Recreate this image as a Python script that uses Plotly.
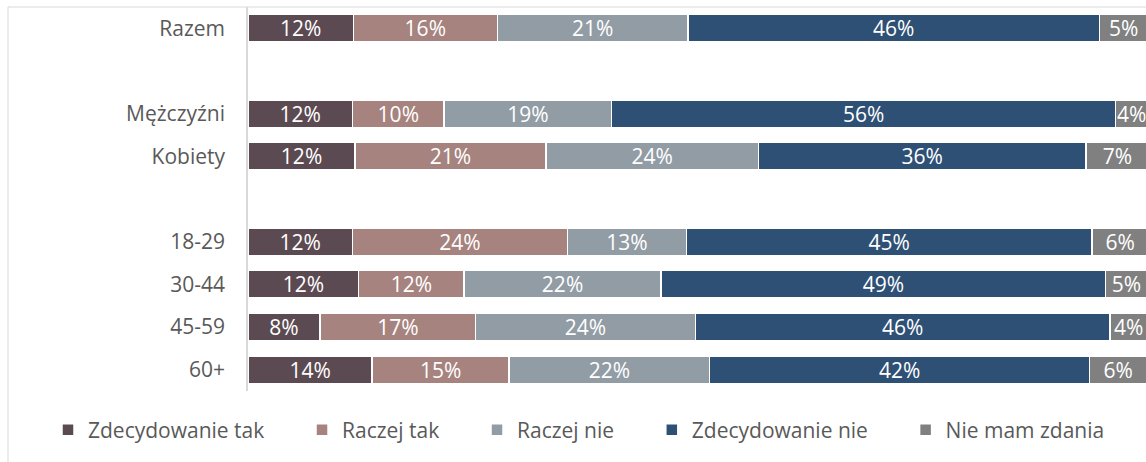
import plotly.graph_objects as go

# Categories (top to bottom); blank entries are spacer rows
categories = ["Razem", "Mężczyźni", "Kobiety", "18-29", "30-44", "45-59", "60+"]
axis_order = ["Razem", " ", "Mężczyźni", "Kobiety", "  ", "18-29", "30-44", "45-59", "60+"]

series_names = ["Zdecydowanie tak", "Raczej tak", "Raczej nie", "Zdecydowanie nie", "Nie mam zdania"]
zdecydowanie_tak = [11.7, 11.6, 11.9, 11.6, 12.3, 8.0, 13.8]
raczej_tak = [16.0, 10.2, 21.2, 23.9, 11.7, 17.3, 15.2]
raczej_nie = [21.2, 18.6, 23.6, 13.2, 21.9, 24.4, 22.3]
zdecydowanie_nie = [45.7, 56.0, 36.4, 45.1, 49.4, 46.1, 42.2]
nie_mam_zdania = [5.4, 3.6, 7.0, 6.2, 4.6, 4.1, 6.4]
series_values = [zdecydowanie_tak, raczej_tak, raczej_nie, zdecydowanie_nie, nie_mam_zdania]
colors = ["#5C4A52", "#A6837E", "#929CA5", "#2E5075", "#808080"]

FONT = "Open Sans"
FS = 21
W, H = 1146, 462
ML, MR, MT, MB = 248, 0, 7, 71
PAD = "\u00a0" * 6  # extra spacing between legend entries

fig = go.Figure()
n = len(series_names)
for i, (name, vals, col) in enumerate(zip(series_names, series_values, colors)):
    fig.add_trace(go.Bar(
        name=name + (PAD if i < n - 1 else ""), y=categories, x=vals, orientation="h",
        marker=dict(color=col, line=dict(color="white", width=1.5)),
        texttemplate="%{x:.0f}%", textposition="inside", insidetextanchor="middle",
        textangle=0, textfont=dict(color="white", size=FS, family=FONT),
        hoverinfo="skip",
    ))

plot_w = W - ML - MR
plot_h = H - MT - MB
fig.update_layout(
    width=W, height=H, barmode="stack", bargap=0.356,
    margin=dict(l=ML, r=MR, t=MT, b=MB, pad=0, autoexpand=False),
    paper_bgcolor="white", plot_bgcolor="white",
    font=dict(family=FONT, size=FS, color="#595959"),
    uniformtext=dict(minsize=FS, mode="show"),
    xaxis=dict(range=[0, plot_w / 9.0], visible=False, fixedrange=True),
    yaxis=dict(categoryorder="array", categoryarray=axis_order,
               range=[len(axis_order) - 0.5, -0.5], fixedrange=True,
               showline=True, linecolor="#D9D9D9", linewidth=1.5,
               showgrid=False, ticks="", ticklabelstandoff=17,
               tickfont=dict(size=FS, color="#595959", family=FONT)),
    legend=dict(orientation="h", xref="paper", x=(48 - ML) / plot_w, xanchor="left",
                yref="paper", y=-(430 - (H - MB)) / plot_h, yanchor="middle",
                font=dict(size=FS, color="#595959", family=FONT),
                traceorder="normal", bgcolor="rgba(0,0,0,0)"),
    showlegend=True,
    shapes=[dict(type="rect", xref="paper", yref="paper",
                 x0=(8 - ML) / plot_w, x1=1.05,
                 y0=-0.3, y1=1.0,
                 line=dict(color="#D9D9D9", width=1), fillcolor="rgba(0,0,0,0)",
                 layer="below")],
)

fig.write_html("out.html", config={"displayModeBar": False},
               post_script="document.body.style.margin='0';")
